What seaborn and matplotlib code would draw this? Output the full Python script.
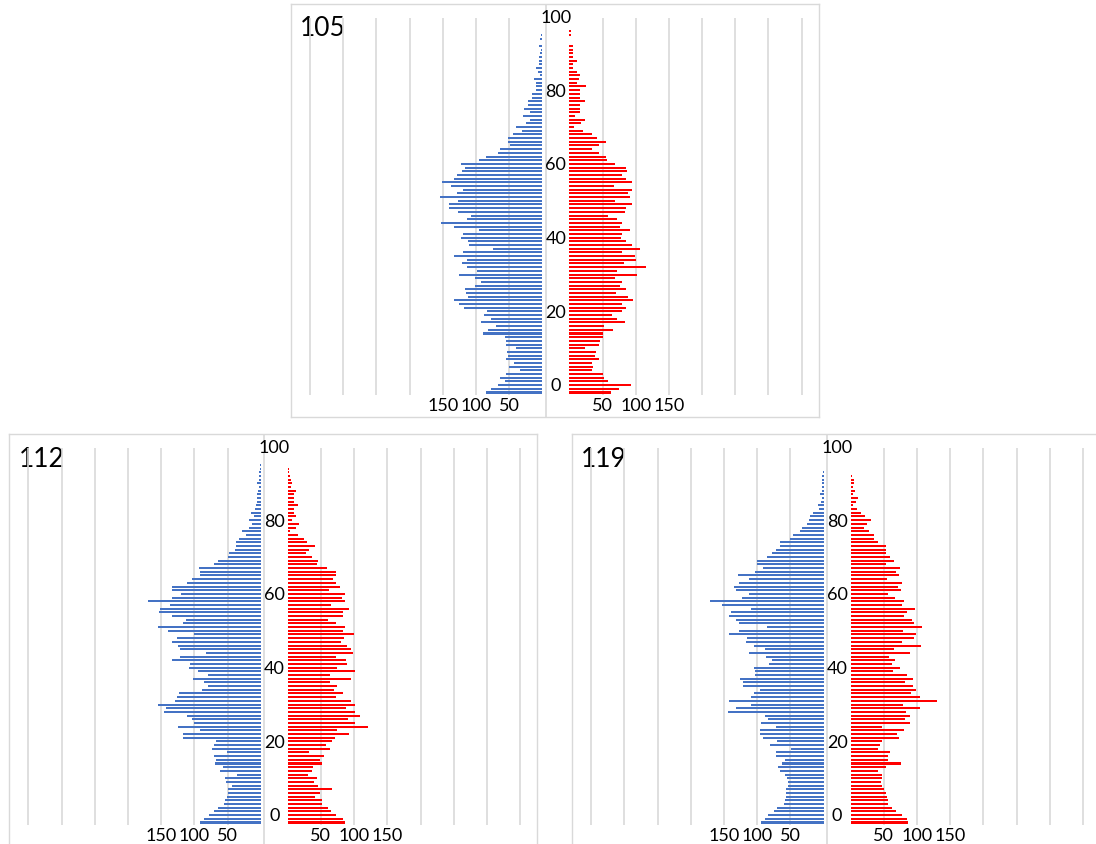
import pandas as pd
import seaborn as sns
import matplotlib.pyplot as plt

# --- DATA (population by single year of age, 0..100) ---
ages = list(range(101))

male_105 = [85, 78, 67, 56, 64, 54, 33, 50, 43, 54,
            51, 53, 39, 54, 55, 56, 90, 82, 69, 92,
            78, 88, 83, 118, 126, 133, 112, 115, 117, 101,
            92, 101, 126, 98, 114, 121, 114, 133, 119, 74,
            110, 112, 122, 119, 95, 133, 152, 113, 107, 127,
            140, 141, 127, 154, 128, 120, 137, 151, 133, 128,
            121, 117, 122, 95, 85, 66, 63, 49, 51, 51,
            44, 30, 39, 25, 19, 29, 19, 27, 21, 22,
            15, 15, 10, 10, 10, 12, 3, 7, 9, 5,
            5, 5, 4, 2, 5, 0, 3, 2, 0, 0, 0]
female_105 = [63, 75, 93, 59, 53, 51, 34, 35, 34, 45,
              39, 40, 24, 45, 46, 51, 51, 66, 52, 84,
              72, 65, 80, 85, 79, 96, 89, 70, 86, 77,
              80, 69, 102, 72, 115, 83, 101, 99, 80, 107,
              94, 86, 78, 80, 91, 76, 80, 72, 59, 84,
              85, 95, 69, 92, 89, 94, 68, 94, 86, 79,
              87, 86, 69, 57, 55, 44, 34, 45, 56, 41,
              34, 20, 7, 17, 23, 9, 16, 16, 16, 23,
              16, 16, 16, 25, 11, 14, 16, 11, 6, 5,
              11, 5, 5, 6, 5, 0, 0, 2, 2, 0, 0]

male_112 = [92, 85, 78, 70, 65, 55, 54, 51, 50, 49,
            43, 53, 54, 35, 62, 57, 69, 68, 70, 51,
            74, 71, 67, 117, 117, 92, 124, 100, 103, 111,
            145, 142, 155, 129, 126, 123, 88, 80, 85, 102,
            79, 94, 108, 107, 133, 121, 82, 122, 124, 133,
            126, 101, 140, 155, 117, 113, 134, 153, 152, 137,
            169, 134, 120, 134, 133, 111, 104, 91, 91, 93,
            70, 64, 50, 47, 38, 37, 37, 32, 22, 28,
            18, 13, 18, 10, 15, 8, 7, 5, 5, 5,
            4, 3, 5, 3, 2, 2, 1, 1, 0, 0, 0]
female_112 = [86, 83, 72, 65, 60, 52, 52, 41, 49, 66,
              45, 40, 44, 30, 36, 38, 51, 49, 55, 32,
              63, 58, 66, 71, 93, 74, 121, 101, 91, 109,
              101, 88, 101, 95, 72, 84, 70, 74, 64, 95,
              63, 101, 74, 90, 88, 72, 99, 95, 90, 81,
              85, 100, 84, 86, 73, 60, 83, 84, 92, 65,
              86, 82, 86, 62, 79, 73, 68, 73, 73, 59,
              44, 46, 36, 27, 32, 41, 29, 24, 15, 4,
              13, 17, 7, 13, 9, 10, 15, 9, 9, 9,
              12, 5, 7, 5, 3, 2, 2, 1, 1, 0, 0]

male_119 = [94, 88, 83, 75, 70, 59, 58, 56, 56, 56,
            53, 53, 55, 58, 65, 69, 63, 58, 71, 71,
            49, 81, 70, 92, 96, 96, 71, 94, 84, 89,
            144, 132, 109, 142, 109, 105, 96, 122, 121, 126,
            104, 104, 105, 82, 78, 87, 113, 88, 105, 117,
            115, 143, 127, 85, 127, 132, 142, 140, 109, 153,
            171, 123, 113, 132, 135, 127, 113, 129, 104, 92,
            100, 101, 85, 78, 71, 66, 66, 50, 46, 36,
            33, 25, 22, 20, 16, 7, 9, 4, 3, 5,
            2, 3, 2, 3, 2, 1, 0, 0, 0, 0, 0]
female_119 = [87, 85, 77, 69, 63, 57, 57, 55, 54, 51,
              48, 46, 47, 47, 41, 53, 76, 57, 57, 60,
              42, 45, 48, 73, 70, 80, 47, 89, 82, 89,
              84, 104, 79, 130, 105, 91, 98, 94, 82, 94,
              85, 64, 75, 62, 67, 58, 89, 65, 106, 77,
              96, 98, 79, 107, 96, 92, 80, 85, 97, 78,
              80, 67, 56, 76, 71, 77, 55, 73, 69, 75,
              53, 66, 59, 53, 53, 53, 42, 35, 35, 27,
              20, 25, 30, 21, 16, 9, 3, 8, 11, 3,
              6, 4, 5, 5, 2, 1, 1, 1, 1, 1, 1]

age_labels = [0, 20, 40, 60, 80, 100]
scale_ticks = [50, 100, 150]
grid_ticks = [50, 100, 150, 200, 250, 300, 350]

# --- STYLE / LAYOUT ---
BLUE = "#4472C4"
RED = "#FF0000"
GRID = "#D9D9D9"

sns.set_theme(style="white")
plt.rcParams["font.family"] = ["Lato", "DejaVu Sans"]

FIG_W, FIG_H = 1096, 845
PANEL_W, PANEL_H = 528, 413
M_ZERO = 251.3          # male zero line, px from panel left
F_ZERO = 278.3          # female zero line, px from panel left
CENTER = 254.6          # thin divider line
PX_PER_UNIT = 33.2 / 50
ROW_PX = 3.687
AGE0_PX = 388.5         # age 0 row, px from panel top

y_lo = -(PANEL_H - AGE0_PX) / ROW_PX
y_hi = AGE0_PX / ROW_PX
grid_lo = -0.55
grid_hi = (AGE0_PX - 14) / ROW_PX
tick_y = -(401 - AGE0_PX) / ROW_PX
title_y = (AGE0_PX - 24) / ROW_PX

fig = plt.figure(figsize=(FIG_W / 100, FIG_H / 100), dpi=100)


def add_px_axes(left, top, width, height):
    return fig.add_axes([left / FIG_W, 1 - (top + height) / FIG_H,
                         width / FIG_W, height / FIG_H])


def clean(ax):
    ax.set_xticks([])
    ax.set_yticks([])
    ax.set_xlabel("")
    ax.set_ylabel("")


def side(ax, values, color, width_px, invert):
    df = pd.DataFrame({"age": ages, "value": values})
    sns.barplot(data=df, x="value", y="age", orient="y", native_scale=True,
                width=0.55, color=color, saturation=1, errorbar=None,
                linewidth=0, ax=ax, zorder=3)
    ax.vlines(grid_ticks, grid_lo, grid_hi, color=GRID, lw=1.2, zorder=0)
    for t in scale_ticks:
        ax.text(t, tick_y, str(t), ha="center", va="center", fontsize=13,
                color="black", clip_on=False)
    xmax = width_px / PX_PER_UNIT
    ax.set_xlim((xmax, 0) if invert else (0, xmax))
    ax.set_ylim(y_lo, y_hi)
    ax.patch.set_visible(False)
    for s in ax.spines.values():
        s.set_visible(False)
    clean(ax)


panels = [
    ("105", male_105, female_105, 291, 5),
    ("112", male_112, female_112, 9.4, 435),
    ("119", male_119, female_119, 572.3, 435),
]

for title, male, female, left, top in panels:
    frame = add_px_axes(left, top, PANEL_W, PANEL_H)
    frame.set_xlim(0, PANEL_W)
    frame.set_ylim(y_lo, y_hi)
    clean(frame)
    for s in frame.spines.values():
        s.set_color(GRID)
        s.set_linewidth(1.0)
    frame.axvline(CENTER, color=GRID, lw=1.2, zorder=0)
    frame.text(9, title_y, title, fontsize=19, va="center", ha="left",
               color="black")
    for a in age_labels:
        frame.text((M_ZERO + F_ZERO) / 2, a + 1.9, str(a), ha="center",
                   va="center", fontsize=13, color="black", zorder=5)

    ax_m = add_px_axes(left, top, M_ZERO, PANEL_H)
    side(ax_m, male, BLUE, M_ZERO, invert=True)
    ax_f = add_px_axes(left + F_ZERO, top, PANEL_W - F_ZERO, PANEL_H)
    side(ax_f, female, RED, PANEL_W - F_ZERO, invert=False)

fig.savefig("out.png", dpi=100)
